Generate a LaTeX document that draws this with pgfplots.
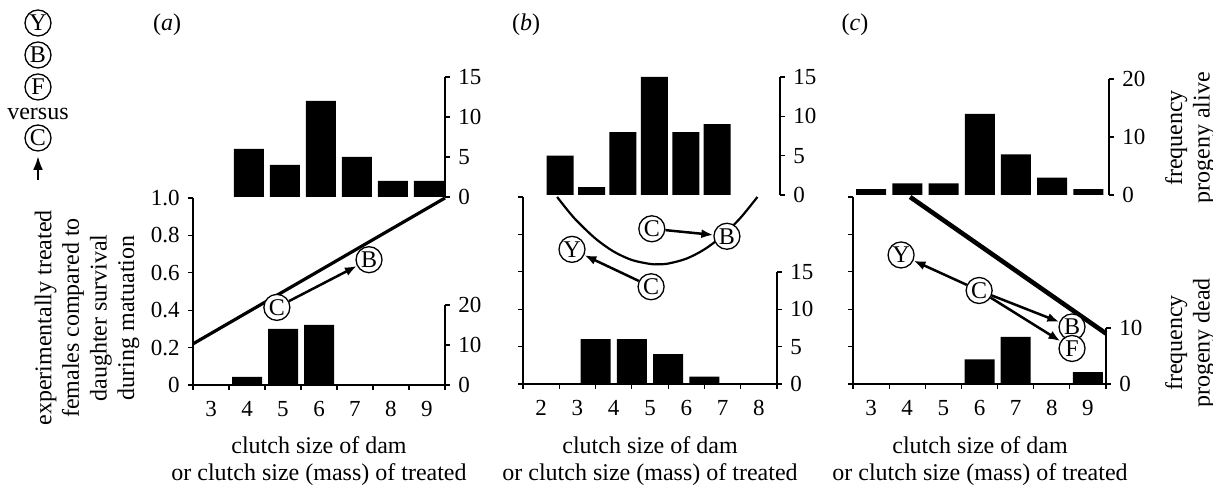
\documentclass[border=0pt]{standalone}
\usepackage{fontspec}
\setmainfont{Liberation Serif}
\usepackage{pgfplots}
\pgfplotsset{compat=1.18}
\usetikzlibrary{arrows.meta}

\pgfplotsset{
  base/.style={
    scale only axis, anchor=south west, clip=false,
    axis line style={-, line width=0.6pt},
    tick style={line width=0.6pt, black},
    tick align=outside,
    major tick length=2.5pt, minor tick length=2.5pt,
    tick label style={font=\fontsize{11.5}{13}\selectfont},
    /pgf/number format/assume math mode=true,
  },
  main/.style={base, height=93.5pt, ymin=0, ymax=1,
    axis x line*=bottom, axis y line*=left,
    ytick={0,0.2,0.4,0.6,0.8,1}, yticklabels={},
    major x tick style={draw=none},
    xticklabel style={yshift=-1.5pt},
  },
  hist/.style={base, ymin=0, axis x line=none, axis y line*=right, xtick=\empty},
  bars/.style={ybar, fill=black, draw=none, bar width=15pt},
}
\tikzset{
  circ/.style={circle, draw, fill=white, line width=0.65pt, inner sep=0pt,
    minimum size=13pt, font=\fontsize{12}{12}\selectfont},
  arr/.style={-{Latex[length=6pt,width=4.5pt]}, line width=1.25pt},
}

\begin{document}
\fontsize{12}{13.8}\selectfont
\begin{tikzpicture}[font=\fontsize{12}{13.8}\selectfont]
\path[use as bounding box] (0,0) rectangle (606.5pt,245pt);

% ---------- (a) ----------
\begin{axis}[hist, at={(96.5pt,52.5pt)}, width=126pt, height=40pt,
  xmin=2.5, xmax=9.5, ymax=20, ytick={0,10,20}]
  \addplot[bars] coordinates {(4,2)(5,14)(6,15)};
\end{axis}
\begin{axis}[hist, at={(96.5pt,146.5pt)}, width=126pt, height=60pt,
  xmin=2.5, xmax=9.5, ymax=15, ytick={0,5,10,15}]
  \addplot[bars] coordinates {(4.05,6)(5.05,4)(6.05,12)(7.05,5)(8.05,2)(9.05,2)};
\end{axis}
\begin{axis}[main, at={(96.5pt,52.5pt)}, width=126pt,
  xmin=2.5, xmax=9.5, xtick={3,...,9}, minor xtick={2.5,3.5,...,9.5},
  yticklabels={0,0.2,0.4,0.6,0.8,1.0}]
  \addplot[line width=1.6pt] coordinates {(2.5,0.22)(9.5,1.0)};
  \node[circ] (aC) at (axis cs:4.83,0.415) {C};
  \node[circ] (aB) at (axis cs:7.39,0.67) {B};
  \draw[arr] (aC) -- (aB);
\end{axis}

% ---------- (b) ----------
\begin{axis}[hist, at={(261.5pt,53pt)}, width=127pt, height=56pt,
  xmin=1.5, xmax=8.5, ymax=15, ytick={0,5,10,15}]
  \addplot[bars] coordinates {(3.5,6)(4.5,6)(5.5,4)(6.5,1)};
\end{axis}
\begin{axis}[hist, at={(261.5pt,147.5pt)}, width=128.5pt, height=59pt,
  xmin=-0.18, xmax=8.0, ymax=15, ytick={0,5,10,15}]
  \addplot[bars, bar width=13.5pt] coordinates {(1,5)(2,1)(3,8)(4,15)(5,8)(6,9)};
\end{axis}
\begin{axis}[main, at={(261.5pt,53pt)}, width=127pt,
  xmin=1.5, xmax=8.5, xtick={2,...,8}, minor xtick={1.5,2.5,...,8.5}]
  \addplot[line width=1.1pt, smooth] coordinates {
    (2.44,1.000)(2.75,0.924)(3.0,0.869)(3.5,0.777)(4.0,0.708)(4.5,0.663)
    (5.0,0.642)(5.2,0.640)(5.5,0.644)(6.0,0.670)(6.5,0.720)(7.0,0.793)
    (7.5,0.890)(7.96,1.000)};
  \node[circ] (bC1) at (axis cs:5.05,0.83) {C};
  \node[circ] (bB) at (axis cs:7.12,0.79) {B};
  \node[circ] (bY) at (axis cs:2.85,0.72) {Y};
  \node[circ] (bC2) at (axis cs:5.03,0.52) {C};
  \draw[arr] (bC1) -- (bB);
  \draw[arr] (bC2) -- (bY);
\end{axis}

% ---------- (c) ----------
\begin{axis}[hist, at={(426.5pt,53pt)}, width=126.5pt, height=28pt,
  xmin=2.5, xmax=9.5, ymax=10, ytick={0,10}]
  \addplot[bars] coordinates {(6,4.4)(7,8.4)(9,2.1)};
\end{axis}
\begin{axis}[hist, at={(426.5pt,147.5pt)}, width=128pt, height=58pt,
  xmin=2.5, xmax=9.57, ymax=20, ytick={0,10,20}]
  \addplot[bars] coordinates {(3,1)(4,2)(5,2)(6,14)(7,7)(8,3)(9,1)};
\end{axis}
\begin{axis}[main, at={(426.5pt,53pt)}, width=126.5pt,
  xmin=2.5, xmax=9.5, xtick={3,...,9}, minor xtick={2.5,3.5,...,9.5}]
  \addplot[line width=2.3pt] coordinates {(4.08,1.0)(9.5,0.27)};
  \node[circ] (cY) at (axis cs:3.83,0.69) {Y};
  \node[circ] (cC) at (axis cs:5.99,0.50) {C};
  \node[circ] (cB) at (axis cs:8.56,0.305) {B};
  \node[circ] (cF) at (axis cs:8.56,0.19) {F};
  \draw[arr] (cC) -- (cY);
  \draw[arr] (cC) -- (cB);
  \draw[arr] (cC) -- (cF);
\end{axis}

% ---------- text ----------
\node at (83.5pt,232.5pt) {(\textit{a})};
\node at (263pt,232.5pt) {(\textit{b})};
\node at (427.5pt,232.5pt) {(\textit{c})};
\foreach \cx in {159.5pt,325pt,490pt}
  \node[align=center] at (\cx,14.5pt) {clutch size of dam\\or clutch size (mass) of treated};
\node[rotate=90, align=center] at (43.5pt,86pt)
  {experimentally treated\\females compared to\\daughter survival\\during matuation};
\node[rotate=90, align=center] at (595pt,176pt) {frequency\\progeny alive};
\node[rotate=90, align=center] at (595pt,73.5pt) {frequency\\progeny dead};
\node[circ] at (19pt,233.5pt) {Y};
\node[circ] at (19pt,217.5pt) {B};
\node[circ] at (19pt,201.5pt) {F};
\node at (19pt,188pt) {versus};
\node[circ] at (19pt,176pt) {C};
\draw[-{Latex[length=7pt,width=5pt]}, line width=1.2pt] (19pt,155pt) -- (19pt,167pt);
\end{tikzpicture}
\end{document}
